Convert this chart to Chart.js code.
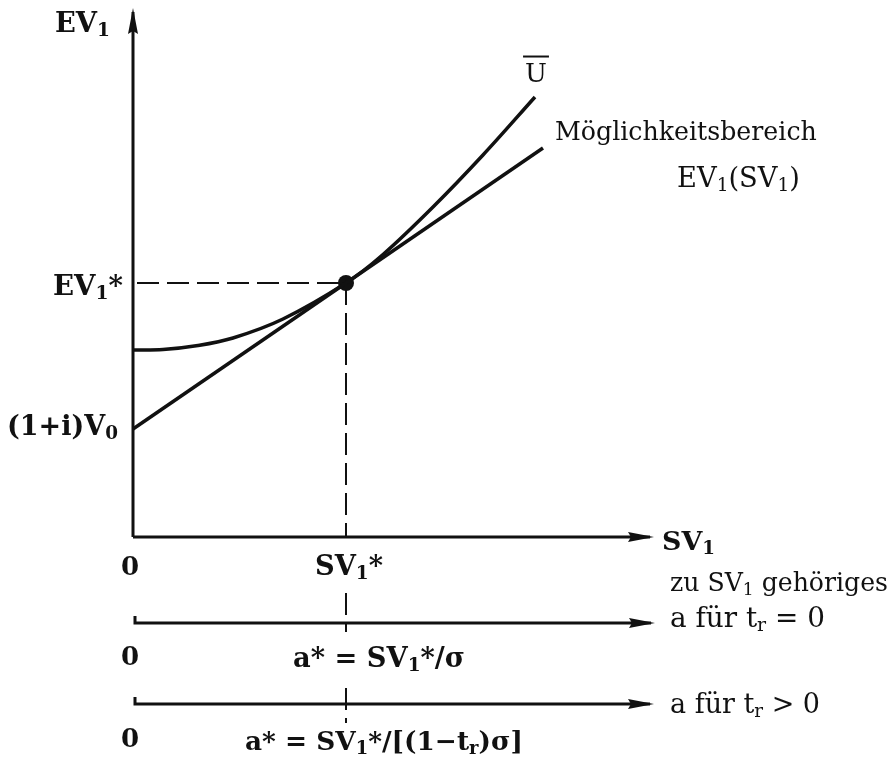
<!DOCTYPE html>
<html>
<head>
<meta charset="utf-8">
<script src="https://cdn.jsdelivr.net/npm/chart.js@4/dist/chart.umd.min.js"></script>
<style>
  html, body { margin: 0; background: #fff; }
  #wrap { width: 894px; height: 764px; }
</style>
</head>
<body>
<div id="wrap"><canvas id="c" width="894" height="764"></canvas></div>
<script>
// readings, in plot units (1 unit = 50px, origin = axis corner)
const uX = [0, 0.6, 1.3, 2, 3, 4.26, 5, 6, 7, 8.04];          // indifference curve U
const uY = [3.74, 3.75, 3.83, 3.98, 4.36, 5.08, 5.65, 6.6, 7.64, 8.8];
const lineX = [0, 8.2];                                 // Möglichkeitsbereich
const lineY = [2.16, 7.78];
const optX = 4.26, optY = 5.08;                         // tangency point
const xAxisEnd = 10.34, yAxisTop = 10.5;
const aAxisY = [-1.72, -3.34];                          // the two a-axes
const aAxisEnd = [10.36, 10.34];
const vDashY = [optY, 0, null, -1.12, -1.9, null, -3.02, -3.72];

const ink = '#111';
const FONT = '"DejaVu Serif", serif';

function arrowHead(len, wid, over) {
  const c = document.createElement('canvas');
  c.width = len * 2; c.height = wid;
  const g = c.getContext('2d');
  g.fillStyle = ink;
  g.beginPath();
  g.moveTo(len + over, wid / 2);
  g.lineTo(len + over - len, 0);
  g.lineTo(len + over - len + 3, wid / 2);
  g.lineTo(len + over - len, wid);
  g.closePath();
  g.fill();
  return c;
}
const arrow = arrowHead(26, 10, 4);

function axisSet(pts, rot) {
  return {
    data: pts, showLine: true, borderColor: ink, borderWidth: 3, tension: 0,
    pointRadius: pts.map((p, i) => i === pts.length - 1 ? 2 : 0),
    pointStyle: pts.map((p, i) => i === pts.length - 1 ? arrow : 'circle'),
    rotation: rot, borderCapStyle: 'butt', clip: false
  };
}

const labels = [
  { t: 'EV_1', x: -1.56, y: 10.1, w: 55, bold: true },
  { t: 'U', x: 8.06, y: 9.1, size: 26, align: 'center', over: true },
  { t: 'Möglichkeitsbereich', x: 8.44, y: 7.94, w: 262 },
  { t: 'EV_1(SV_1)', x: 10.88, y: 7.0, w: 123 },
  { t: 'EV_1*', x: -0.2, y: 4.84, w: 70, bold: true, align: 'right' },
  { t: '(1+i)V_0', x: -2.52, y: 2.04, w: 111, bold: true },
  { t: 'SV_1', x: 10.58, y: -0.26, w: 53, bold: true },
  { t: '0', x: -0.06, y: -0.76, size: 26, bold: true, align: 'center' },
  { t: 'SV_1*', x: 3.64, y: -0.76, w: 68, bold: true },
  { t: 'zu SV_1 gehöriges', x: 10.74, y: -1.08, w: 218 },
  { t: 'a für t_r = 0', x: 10.74, y: -1.8, w: 155 },
  { t: '0', x: -0.06, y: -2.56, size: 26, bold: true, align: 'center' },
  { t: 'a* = SV_1*/σ', x: 3.2, y: -2.6, w: 172, bold: true },
  { t: 'a für t_r > 0', x: 10.74, y: -3.52, w: 150 },
  { t: '0', x: -0.06, y: -4.2, size: 26, bold: true, align: 'center' },
  { t: 'a* = SV_1*/[(1−t_r)σ]', x: 2.24, y: -4.26, w: 278, bold: true }
];

function parseRich(s) {
  const parts = [];
  for (let i = 0; i < s.length; i++) {
    if (s[i] === '_') { parts.push({ t: s[i + 1], sub: true }); i++; continue; }
    const last = parts[parts.length - 1];
    if (last && !last.sub) last.t += s[i]; else parts.push({ t: s[i], sub: false });
  }
  return parts;
}
function richWidth(g, parts, size, weight) {
  let w = 0;
  parts.forEach(p => {
    g.font = `${weight} ${p.sub ? size * 0.68 : size}px ${FONT}`;
    w += g.measureText(p.t).width;
  });
  return w;
}

const textPlugin = {
  id: 'texts',
  afterDatasetsDraw(chart) {
    const g = chart.ctx, sx = chart.scales.x, sy = chart.scales.y;
    g.save();
    g.fillStyle = ink; g.strokeStyle = ink;
    g.textBaseline = 'alphabetic'; g.textAlign = 'left';
    labels.forEach(l => {
      const parts = parseRich(l.t);
      const weight = l.bold ? 'bold' : 'normal';
      let size = l.size || 28;
      if (l.w) size = size * l.w / richWidth(g, parts, size, weight);
      const w = richWidth(g, parts, size, weight);
      let px = sx.getPixelForValue(l.x);
      const py = sy.getPixelForValue(l.y);
      if (l.align === 'right') px -= w;
      if (l.align === 'center') px -= w / 2;
      let cx = px;
      parts.forEach(p => {
        const fs = p.sub ? size * 0.68 : size;
        g.font = `${weight} ${fs}px ${FONT}`;
        g.fillText(p.t, cx, py + (p.sub ? size * 0.16 : 0));
        cx += g.measureText(p.t).width;
      });
      if (l.over) {
        g.lineWidth = 2;
        g.beginPath();
        g.moveTo(px - 2, py - size * 0.98);
        g.lineTo(px + w + 2, py - size * 0.98);
        g.stroke();
      }
    });
    g.restore();
  }
};

new Chart(document.getElementById('c'), {
  type: 'scatter',
  data: {
    datasets: [
      axisSet([{ x: 0, y: 0 }, { x: 0, y: yAxisTop }], -90),
      axisSet([{ x: 0, y: 0 }, { x: xAxisEnd, y: 0 }], 0),
      axisSet([{ x: 0.04, y: aAxisY[0] + 0.14 }, { x: 0.04, y: aAxisY[0] }, { x: aAxisEnd[0], y: aAxisY[0] }], 0),
      axisSet([{ x: 0.04, y: aAxisY[1] + 0.14 }, { x: 0.04, y: aAxisY[1] }, { x: aAxisEnd[1], y: aAxisY[1] }], 0),
      {
        data: [{ x: 0.08, y: optY }, { x: optX, y: optY }],
        showLine: true, borderColor: ink, borderWidth: 2, borderDash: [22, 8], pointRadius: 0
      },
      {
        data: vDashY.map(y => ({ x: optX, y: y })),
        showLine: true, spanGaps: false, borderColor: ink, borderWidth: 2, borderDash: [22, 8], pointRadius: 0
      },
      {
        data: lineX.map((x, i) => ({ x: x, y: lineY[i] })),
        showLine: true, borderColor: ink, borderWidth: 3.5, pointRadius: 0
      },
      {
        data: uX.map((x, i) => ({ x: x, y: uY[i] })),
        showLine: true, borderColor: ink, borderWidth: 3.5, pointRadius: 0,
        tension: 0.35
      },
      {
        data: [{ x: optX, y: optY }],
        pointRadius: 8, pointBackgroundColor: ink, pointBorderWidth: 0
      }
    ]
  },
  options: {
    responsive: false,
    animation: false,
    events: [],
    layout: { padding: 0, autoPadding: false },
    plugins: { legend: { display: false }, tooltip: { enabled: false } },
    scales: {
      x: { type: 'linear', min: -2.66, max: 15.22, display: false },
      y: { type: 'linear', min: -4.54, max: 10.74, display: false }
    }
  },
  plugins: [textPlugin]
});
</script>
</body>
</html>
